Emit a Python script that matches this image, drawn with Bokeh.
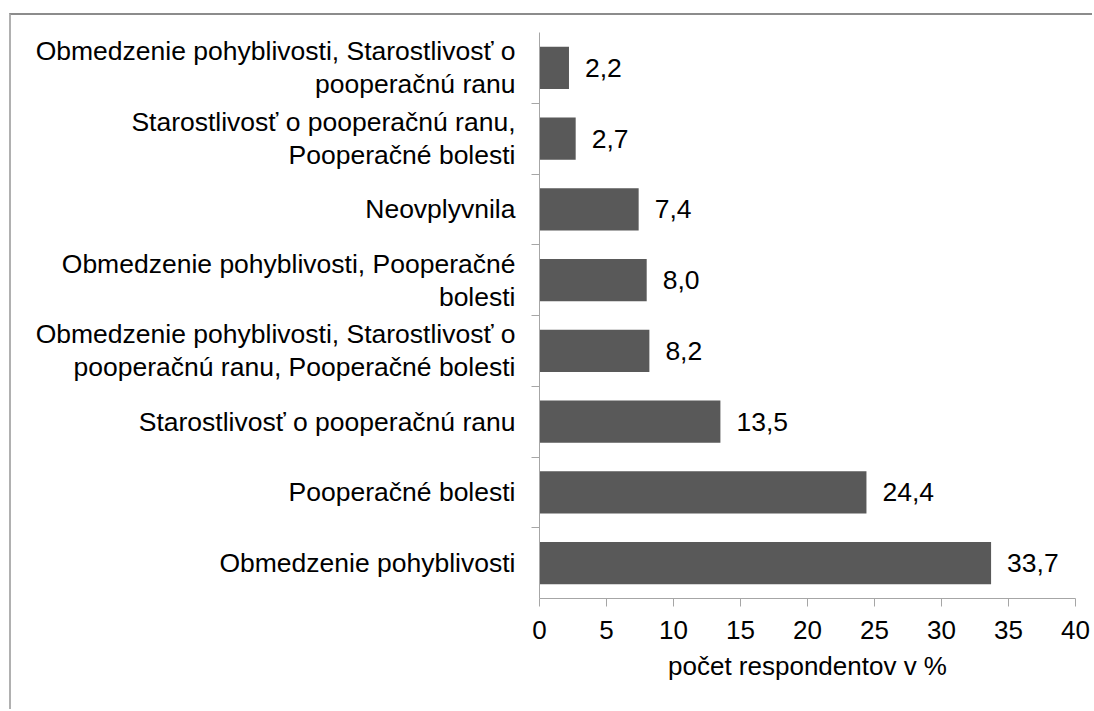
from bokeh.plotting import figure
from bokeh.models import FactorRange, Range1d, LinearAxis, CategoricalAxis, FixedTicker, ColumnDataSource
from bokeh.core.properties import value
from bokeh.embed import file_html
from bokeh.resources import INLINE

# Categories listed top to bottom as in the chart
categories = [
    "Obmedzenie pohyblivosti, Starostlivosť o\npooperačnú ranu",
    "Starostlivosť o pooperačnú ranu,\nPooperačné bolesti",
    "Neovplyvnila",
    "Obmedzenie pohyblivosti, Pooperačné\nbolesti",
    "Obmedzenie pohyblivosti, Starostlivosť o\npooperačnú ranu, Pooperačné bolesti",
    "Starostlivosť o pooperačnú ranu",
    "Pooperačné bolesti",
    "Obmedzenie pohyblivosti",
]
values = [2.2, 2.7, 7.4, 8.0, 8.2, 13.5, 24.4, 33.7]
x_ticks = [0, 5, 10, 15, 20, 25, 30, 35, 40]
x_title = "počet respondentov v %"

FONT = "Liberation Sans"
BAR = "#595959"
AXIS = "#a6a6a6"

labels = [f"{v:.1f}".replace(".", ",") for v in values]
src = ColumnDataSource(dict(cat=categories, val=values, lab=labels))

factors = list(reversed(categories))  # bottom first

p = figure(
    width=1083, height=696,
    y_range=FactorRange(factors=factors),
    x_range=Range1d(0, 40),
    x_axis_location=None, y_axis_location=None,
    output_backend="svg", toolbar_location=None,
    min_border_left=528, min_border_right=19, min_border_top=17, min_border_bottom=113,
)
p.styles = {"border-top": "2px solid #8c8c8c", "border-left": "2px solid #b0b0b0",
            "margin-top": "13px", "margin-left": "9px"}
p.outline_line_color = None
p.xgrid.grid_line_color = None
p.ygrid.grid_line_color = None

p.hbar(y="cat", right="val", left=0, height=0.6, source=src, fill_color=BAR, line_color=None)
p.text(x="val", y="cat", text="lab", source=src, x_offset=16, text_baseline="middle",
       text_align="left", text_font=value(FONT), text_font_size="26.5px", text_color="#000000")

# x axis
xa = LinearAxis(ticker=FixedTicker(ticks=x_ticks), axis_label=x_title)
xa.axis_line_color = AXIS
xa.major_tick_line_color = AXIS
xa.major_tick_out = 8
xa.major_tick_in = 0
xa.minor_tick_line_color = None
xa.major_label_text_font = FONT
xa.major_label_text_font_size = "26px"
xa.major_label_text_color = "#000000"
xa.major_label_standoff = 14
xa.axis_label_text_font = FONT
xa.axis_label_text_font_size = "26px"
xa.axis_label_text_font_style = "normal"
xa.axis_label_text_color = "#000000"
xa.axis_label_standoff = 9
p.add_layout(xa, "below")

# tick-mark axis at category boundaries (a factor range shifted by half a band)
bounds = [f"b{i}" for i in range(len(categories) + 1)]
p.extra_y_ranges = {"bounds": FactorRange(factors=bounds, range_padding=-0.5,
                                          range_padding_units="absolute")}
ta = CategoricalAxis(y_range_name="bounds")
ta.axis_line_color = AXIS
ta.major_tick_line_color = AXIS
ta.major_tick_out = 8
ta.major_tick_in = 0
ta.minor_tick_line_color = None
ta.major_label_text_font_size = "0px"
ta.major_label_text_alpha = 0
ta.major_label_standoff = 0

ca = CategoricalAxis()
ca.axis_line_color = None
ca.major_tick_line_color = None
ca.major_tick_out = 0
ca.major_label_standoff = 16
ca.major_label_text_font = FONT
ca.major_label_text_font_size = "26.5px"
ca.major_label_text_line_height = 1.1
ca.major_label_text_color = "#000000"
ca.major_label_text_align = "right"

p.add_layout(ta, "left")
p.add_layout(ca, "left")

open("out.html", "w").write(file_html(p, INLINE))
